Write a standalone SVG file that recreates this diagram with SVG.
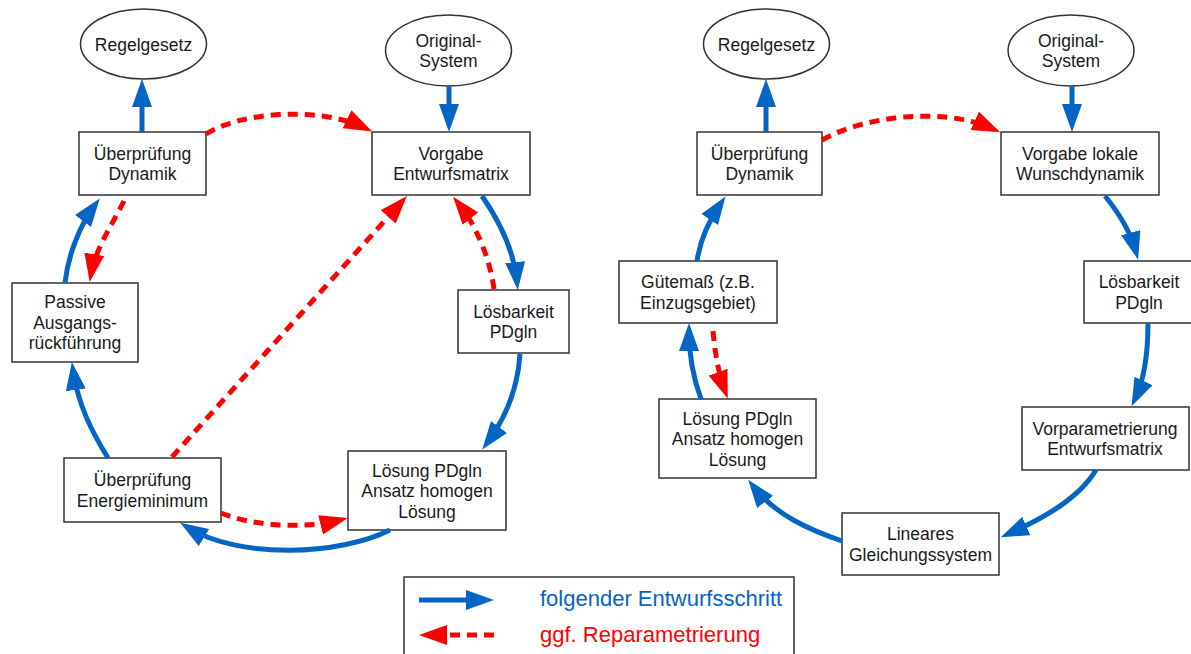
<svg xmlns="http://www.w3.org/2000/svg" width="1191" height="654" viewBox="0 0 1191 654">
  <style>
    .box { fill: #ffffff; stroke: #333333; stroke-width: 1.5; }
    .lbl { font-family: "Liberation Sans", Arial, sans-serif; font-size: 17.5px; fill: #1a1a1a; text-anchor: middle; }
    .step { fill: none; stroke: #0565C4; stroke-width: 5; marker-end: url(#headBlue); }
    .repar { fill: none; stroke: #FF0000; stroke-width: 5; stroke-dasharray: 10 7; marker-end: url(#headRed); }
    .legend { font-family: "Liberation Sans", Arial, sans-serif; font-size: 22px; }
  </style>
  <defs>
    <marker id="headBlue" markerUnits="userSpaceOnUse" viewBox="0 0 28 20" markerWidth="28" markerHeight="20" refX="20" refY="10" orient="auto">
      <path d="M0,0 L28,10 L0,20 z" fill="#0565C4"/>
    </marker>
    <marker id="headRed" markerUnits="userSpaceOnUse" viewBox="0 0 28 20" markerWidth="28" markerHeight="20" refX="20" refY="10" orient="auto">
      <path d="M0,0 L28,10 L0,20 z" fill="#FF0000"/>
    </marker>
  </defs>

  <rect width="1191" height="654" fill="#ffffff"/>

  <!-- left cycle: nodes -->
  <g id="l-regelgesetz">
    <ellipse class="box" cx="143.5" cy="44" rx="63" ry="35"/>
    <text class="lbl" x="143.5" y="50.5">Regelgesetz</text>
  </g>
  <g id="l-original">
    <ellipse class="box" cx="448.5" cy="50.5" rx="63" ry="35.5"/>
    <text class="lbl" x="448.5" y="46.5">Original-</text>
    <text class="lbl" x="448.5" y="67">System</text>
  </g>
  <g id="l-dynamik">
    <rect class="box" x="79" y="132" width="127" height="63"/>
    <text class="lbl" x="142.5" y="159.5">Überprüfung</text>
    <text class="lbl" x="142.5" y="180">Dynamik</text>
  </g>
  <g id="l-vorgabe">
    <rect class="box" x="372" y="132" width="158" height="63"/>
    <text class="lbl" x="451" y="159.5">Vorgabe</text>
    <text class="lbl" x="451" y="180">Entwurfsmatrix</text>
  </g>
  <g id="l-passive">
    <rect class="box" x="12" y="283" width="126" height="79"/>
    <text class="lbl" x="75" y="308.3">Passive</text>
    <text class="lbl" x="75" y="328.8">Ausgangs-</text>
    <text class="lbl" x="75" y="349.3">rückführung</text>
  </g>
  <g id="l-loesbarkeit">
    <rect class="box" x="458" y="290" width="111" height="63"/>
    <text class="lbl" x="513.5" y="317.5">Lösbarkeit</text>
    <text class="lbl" x="513.5" y="338">PDgln</text>
  </g>
  <g id="l-energie">
    <rect class="box" x="64" y="458" width="157" height="64"/>
    <text class="lbl" x="142.5" y="486">Überprüfung</text>
    <text class="lbl" x="142.5" y="506.5">Energieminimum</text>
  </g>
  <g id="l-loesung">
    <rect class="box" x="348" y="451" width="158" height="79"/>
    <text class="lbl" x="427" y="476.5">Lösung PDgln</text>
    <text class="lbl" x="427" y="497">Ansatz homogen</text>
    <text class="lbl" x="427" y="517.5">Lösung</text>
  </g>

  <!-- right cycle: nodes -->
  <g id="r-regelgesetz">
    <ellipse class="box" cx="766.5" cy="44" rx="63" ry="35"/>
    <text class="lbl" x="766.5" y="50.5">Regelgesetz</text>
  </g>
  <g id="r-original">
    <ellipse class="box" cx="1071" cy="50.5" rx="63" ry="35.5"/>
    <text class="lbl" x="1071" y="46.5">Original-</text>
    <text class="lbl" x="1071" y="67">System</text>
  </g>
  <g id="r-dynamik">
    <rect class="box" x="697" y="132" width="125" height="63"/>
    <text class="lbl" x="759.5" y="159.5">Überprüfung</text>
    <text class="lbl" x="759.5" y="180">Dynamik</text>
  </g>
  <g id="r-vorgabe">
    <rect class="box" x="1001" y="132" width="158" height="63"/>
    <text class="lbl" x="1080" y="159.5">Vorgabe lokale</text>
    <text class="lbl" x="1080" y="180">Wunschdynamik</text>
  </g>
  <g id="r-guetemass">
    <rect class="box" x="619" y="261" width="158" height="62"/>
    <text class="lbl" x="698" y="288">Gütemaß (z.B.</text>
    <text class="lbl" x="698" y="308.5">Einzugsgebiet)</text>
  </g>
  <g id="r-loesbarkeit">
    <rect class="box" x="1084" y="261" width="110" height="62"/>
    <text class="lbl" x="1139" y="288">Lösbarkeit</text>
    <text class="lbl" x="1139" y="308.5">PDgln</text>
  </g>
  <g id="r-loesung">
    <rect class="box" x="659" y="399" width="157" height="79"/>
    <text class="lbl" x="737.5" y="424.5">Lösung PDgln</text>
    <text class="lbl" x="737.5" y="445">Ansatz homogen</text>
    <text class="lbl" x="737.5" y="465.5">Lösung</text>
  </g>
  <g id="r-vorparam">
    <rect class="box" x="1022" y="407" width="167" height="63"/>
    <text class="lbl" x="1105" y="434.5">Vorparametrierung</text>
    <text class="lbl" x="1105" y="455">Entwurfsmatrix</text>
  </g>
  <g id="r-lgs">
    <rect class="box" x="842" y="513" width="157" height="62"/>
    <text class="lbl" x="920.5" y="540">Lineares</text>
    <text class="lbl" x="920.5" y="560.5">Gleichungssystem</text>
  </g>

  <!-- connectors -->
  <g id="connectors">
    <!-- left cycle -->
    <path class="step" d="M449,86 L449,124"/>
    <path class="step" d="M142,132 L142,87"/>
    <path class="repar" d="M206,134 C240,112 320,106 365,128"/>
    <path class="step" d="M65,283 C68,255 80,225 95,205"/>
    <path class="repar" d="M124,201 C112,225 95,250 91,274"/>
    <path class="repar" d="M172,457 L401.6,202"/>
    <path class="repar" d="M494,289 C490,260 478,228 458,203"/>
    <path class="step" d="M482,196 C500,222 514,250 517,282"/>
    <path class="step" d="M520,354 C518,385 508,415 487,443"/>
    <path class="step" d="M108,458 C92,432 78,405 73,370"/>
    <path class="repar" d="M221,513 C250,525 300,530 340,520"/>
    <path class="step" d="M390,530 C340,555 240,560 187,527"/>

    <!-- right cycle -->
    <path class="step" d="M1072,86 L1072,124"/>
    <path class="step" d="M766,132 L766,87"/>
    <path class="repar" d="M822,140 C860,118 940,105 993,129"/>
    <path class="step" d="M697,261 C700,240 708,222 721,203"/>
    <path class="step" d="M1105,196 C1118,212 1130,230 1136,252"/>
    <path class="step" d="M1148,323 C1148,355 1144,380 1135,399"/>
    <path class="step" d="M1096,470 C1078,500 1040,520 1008,534"/>
    <path class="step" d="M842,541 C810,530 775,515 753,486"/>
    <path class="step" d="M701,399 C694,380 689,355 689,331"/>
    <path class="repar" d="M713,331 C715,352 718,372 725,391"/>
  </g>

  <!-- legend -->
  <g id="legend">
    <rect class="box" x="404" y="577" width="390" height="90"/>
    <path class="step" d="M419,600 L486,600"/>
    <path class="repar" d="M494,635 L427,635"/>
    <text class="legend" x="540" y="606" fill="#0565C4">folgender Entwurfsschritt</text>
    <text class="legend" x="540" y="642" fill="#FF0000">ggf. Reparametrierung</text>
  </g>
</svg>
